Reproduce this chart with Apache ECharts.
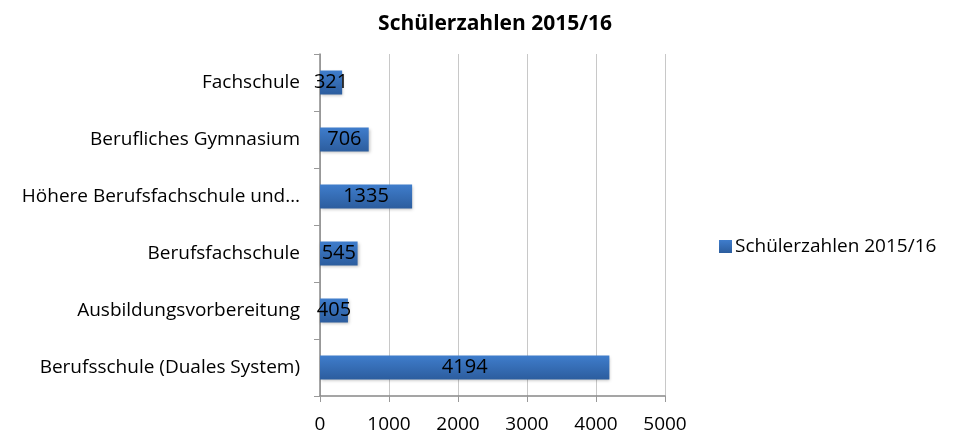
<!DOCTYPE html>
<html>
<head>
<meta charset="utf-8">
<script src="https://cdn.jsdelivr.net/npm/echarts@6/dist/echarts.min.js"></script>
<style>
  html, body { margin: 0; padding: 0; background: #fff; }
  #chart { width: 962px; height: 439px; }
</style>
</head>
<body>
<div id="chart"></div>
<script>
// Kategorien von unten nach oben
const categories = [
  'Berufsschule (Duales System)',
  'Ausbildungsvorbereitung',
  'Berufsfachschule',
  'Höhere Berufsfachschule und…',
  'Berufliches Gymnasium',
  'Fachschule'
];
const schuelerzahlen = [4194, 405, 545, 1335, 706, 321];
const xTicks = [0, 1000, 2000, 3000, 4000, 5000];
const seriesName = 'Schülerzahlen 2015/16';

const font = '"Open Sans", "Noto Sans", sans-serif';
const chart = echarts.init(document.getElementById('chart'));

chart.setOption({
  animation: false,
  title: {
    text: seriesName,
    left: 490, top: 9, textAlign: 'center',
    textStyle: { fontFamily: font, fontSize: 21, fontWeight: 'bold', color: '#000' }
  },
  legend: {
    data: [seriesName],
    left: 714, top: 232,
    icon: 'rect', itemWidth: 13, itemHeight: 13, itemGap: 4,
    textStyle: { fontFamily: font, fontSize: 19, color: '#000', padding: [0, 0, 0, -2] }
  },
  grid: { left: 320, right: 297, top: 54, bottom: 43 },
  xAxis: {
    type: 'value',
    min: xTicks[0], max: xTicks[xTicks.length - 1], interval: 1000,
    axisLine: { show: true, lineStyle: { color: '#888', width: 1.5 } },
    axisTick: { show: true, length: 6, inside: false, lineStyle: { color: '#999' } },
    splitLine: { show: true, lineStyle: { color: '#c8c8c8' } },
    axisLabel: { fontFamily: font, fontSize: 19, color: '#000', margin: 19, formatter: v => String(v) }
  },
  yAxis: {
    type: 'category',
    data: categories,
    axisLine: { show: true, lineStyle: { color: '#888', width: 1.5 } },
    axisTick: { show: true, length: 6, lineStyle: { color: '#999' } },
    axisLabel: { fontFamily: font, fontSize: 19, color: '#000', margin: 20 }
  },
  series: [{
    name: seriesName,
    type: 'bar',
    data: schuelerzahlen,
    barWidth: 24,
    itemStyle: {
      color: new echarts.graphic.LinearGradient(0, 0, 0, 1, [
        { offset: 0, color: '#3f7dcc' },
        { offset: 1, color: '#2c5d9e' }
      ]),
      shadowColor: 'rgba(0,0,0,0.25)', shadowBlur: 3, shadowOffsetX: 1, shadowOffsetY: 1
    },
    label: {
      show: true, position: 'inside',
      fontFamily: font, fontSize: 20, color: '#000'
    }
  }]
});
</script>
</body>
</html>
